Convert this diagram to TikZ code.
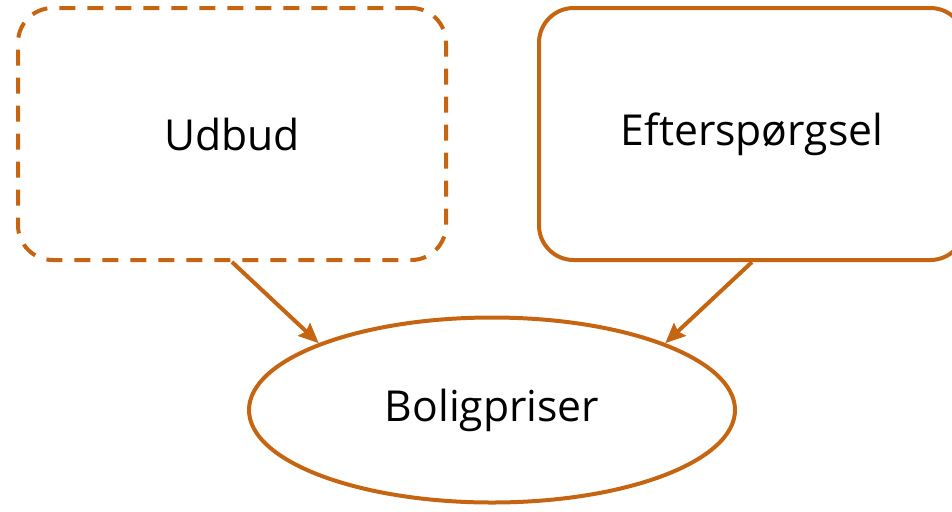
\documentclass[tikz,border=0pt]{standalone}
\usepackage{fontspec}
\setmainfont{Open Sans}
\usetikzlibrary{shapes.geometric,arrows.meta}
\definecolor{accent}{RGB}{197,101,17}
\begin{document}
\begin{tikzpicture}[x=0.75pt,y=-0.75pt,
  box/.style={draw=accent,line width=3pt,rounded corners=26pt,inner sep=0pt,
    minimum height=189pt,font=\fontsize{32}{40}\selectfont},
  oval/.style={ellipse,draw=accent,line width=3pt,inner sep=0pt,
    minimum width=364.5pt,minimum height=138.75pt,font=\fontsize{32}{40}\selectfont},
  conn/.style={draw=accent,line width=3pt,-{Stealth[length=15pt,width=13pt,inset=2pt]}}]
\useasboundingbox (0,0) rectangle (952,511);
\node[box,dash pattern=on 12pt off 9pt,minimum width=321pt] (u) at (232,134) {Udbud};
\node[box,minimum width=319.5pt] (e) at (752,134) {Efterspørgsel};
\node[oval] (b) at (492,410) {Boligpriser};
\draw[conn] (u.south) -- (b.north west);
\draw[conn] (e.south) -- (b.north east);
\end{tikzpicture}
\end{document}
